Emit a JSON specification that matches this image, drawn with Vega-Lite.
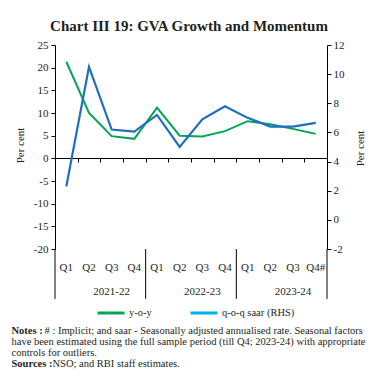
{
  "$schema": "https://vega.github.io/schema/vega-lite/v6.json",
  "width": 272,
  "height": 204,
  "autosize": {"type": "none"},
  "padding": {"left": 55, "top": 45, "right": 50, "bottom": 129},
  "background": "white",
  "config": {
    "view": {"stroke": null},
    "font": "Liberation Serif",
    "axis": {"labelFont": "Liberation Serif", "titleFont": "Liberation Serif", "labelColor": "#231f20", "titleColor": "#231f20", "domainColor": "#000000", "tickColor": "#000000", "grid": false, "titleFontWeight": "normal"},
    "legend": {"labelFont": "Liberation Serif"}
  },
  "title": {"text": "Chart III 19: GVA Growth and Momentum", "font": "Liberation Serif", "fontSize": 15, "fontWeight": "bold", "color": "#231f20", "anchor": "middle", "offset": 5, "dx": -2},
  "datasets": {
    "gva": [
      {"q": "2021-22 Q1", "yoy": 21.3, "qoq": 2.3},
      {"q": "2021-22 Q2", "yoy": 10.0, "qoq": 10.5},
      {"q": "2021-22 Q3", "yoy": 4.9, "qoq": 6.2},
      {"q": "2021-22 Q4", "yoy": 4.3, "qoq": 6.05},
      {"q": "2022-23 Q1", "yoy": 11.2, "qoq": 7.2},
      {"q": "2022-23 Q2", "yoy": 5.0, "qoq": 5.0},
      {"q": "2022-23 Q3", "yoy": 4.8, "qoq": 6.9},
      {"q": "2022-23 Q4", "yoy": 6.0, "qoq": 7.8},
      {"q": "2023-24 Q1", "yoy": 8.2, "qoq": 7.0},
      {"q": "2023-24 Q2", "yoy": 7.5, "qoq": 6.4},
      {"q": "2023-24 Q3", "yoy": 6.5, "qoq": 6.4},
      {"q": "2023-24 Q4#", "yoy": 5.4, "qoq": 6.65}
    ],
    "starts": [{"q": "2021-22 Q1"}, {"q": "2022-23 Q1"}, {"q": "2023-24 Q1"}],
    "ends": [{"q": "2023-24 Q4#"}]
  },
  "layer": [
    {
      "data": {"name": "gva"},
      "mark": {"type": "line", "strokeWidth": 2},
      "encoding": {
        "x": {"field": "q", "type": "ordinal", "bandPosition": 0.5,
          "scale": {"type": "band", "paddingInner": 0, "paddingOuter": 0, "domain": ["2021-22 Q1","2021-22 Q2","2021-22 Q3","2021-22 Q4","2022-23 Q1","2022-23 Q2","2022-23 Q3","2022-23 Q4","2023-24 Q1","2023-24 Q2","2023-24 Q3","2023-24 Q4#"]},
          "axis": {"orient": "bottom", "offset": 0, "domain": false, "ticks": false, "labelAngle": 0, "labelFontSize": 11, "labelPadding": 12, "labelExpr": "split(datum.value, ' ')[1]",
            "title": "Notes :", "titleFontWeight": "bold", "titleFontSize": 10.5, "titleAngle": 0, "titleAlign": "left", "titleBaseline": "alphabetic", "titleX": -44, "titleY": 84}},
        "y": {"field": "yoy", "type": "quantitative",
          "scale": {"domain": [-20, 25], "nice": false, "zero": false},
          "axis": {"orient": "left", "values": [-20,-15,-10,-5,0,5,10,15,20,25], "labelExpr": "replace(datum.label, '\u2212', '-')", "tickSize": 4, "labelPadding": 3, "labelFontSize": 11, "title": "Per cent", "titleFontSize": 11, "titleAngle": -90, "titleX": -35, "titleY": 100, "titleAlign": "center", "titleBaseline": "middle"}},
        "color": {"datum": "y-o-y", "type": "nominal",
          "scale": {"domain": ["y-o-y", "q-o-q saar (RHS)"], "range": ["#00a651", "#00b0f0"]},
          "legend": {"title": null, "orient": "none", "direction": "horizontal", "legendX": 41, "legendY": 253, "symbolType": "stroke", "symbolSize": 729, "symbolStrokeWidth": 3, "labelFontSize": 10.5, "labelColor": "#231f20", "labelOffset": 3, "columnPadding": 32}}
      }
    },
    {
      "data": {"name": "gva"},
      "mark": {"type": "line", "strokeWidth": 1},
      "encoding": {
        "x": {"field": "q", "type": "ordinal", "bandPosition": 0.5,
          "scale": {"type": "band", "paddingInner": 0, "paddingOuter": 0, "domain": ["2021-22 Q1","2021-22 Q2","2021-22 Q3","2021-22 Q4","2022-23 Q1","2022-23 Q2","2022-23 Q3","2022-23 Q4","2023-24 Q1","2023-24 Q2","2023-24 Q3","2023-24 Q4#"]},
          "axis": {"orient": "bottom", "offset": -91, "domain": true, "domainWidth": 1, "ticks": true, "tickBand": "extent", "tickSize": 4, "labels": false,
            "title": "# : Implicit; and saar - Seasonally adjusted annualised rate. Seasonal factors", "titleFontSize": 10.5, "titleAngle": 0, "titleAlign": "left", "titleBaseline": "alphabetic", "titleX": -11, "titleY": 175}},
        "y": {"field": "qoq", "type": "quantitative",
          "scale": {"domain": [-2, 12], "nice": false, "zero": false},
          "axis": {"orient": "right", "values": [-2,0,2,4,6,8,10,12], "labelExpr": "replace(datum.label, '\u2212', '-')", "tickSize": 4, "labelPadding": 2, "labelFontSize": 11, "title": "Per cent", "titleFontSize": 11, "titleAngle": -90, "titleX": 33, "titleY": 103, "titleAlign": "center", "titleBaseline": "middle"}},
        "color": {"datum": "q-o-q saar (RHS)", "type": "nominal"}
      }
    },
    {
      "data": {"name": "gva"},
      "mark": {"type": "line", "strokeWidth": 2.2, "color": "#1f6fc0"},
      "encoding": {
        "x": {"field": "q", "type": "ordinal", "bandPosition": 0.5,
          "scale": {"type": "band", "paddingInner": 0, "paddingOuter": 0, "domain": ["2021-22 Q1","2021-22 Q2","2021-22 Q3","2021-22 Q4","2022-23 Q1","2022-23 Q2","2022-23 Q3","2022-23 Q4","2023-24 Q1","2023-24 Q2","2023-24 Q3","2023-24 Q4#"]},
          "axis": {"orient": "bottom", "offset": 0, "bandPosition": 0, "domain": false, "ticks": false, "labelAngle": 0, "labelFontSize": 11, "labelPadding": 36, "labelExpr": "indexof(datum.value, 'Q3') >= 0 ? split(datum.value, ' ')[0] : ''",
            "title": ["have been estimated using the full sample period (till Q4; 2023-24) with appropriate", "controls for outliers."], "titleFontSize": 10.5, "titleLineHeight": 11, "titleAngle": 0, "titleAlign": "left", "titleBaseline": "alphabetic", "titleX": -44, "titleY": 95}},
        "y": {"field": "qoq", "type": "quantitative",
          "scale": {"domain": [-2, 12], "nice": false, "zero": false},
          "axis": null}
      }
    },
    {
      "data": {"name": "starts"},
      "mark": {"type": "rule", "color": "#000000", "strokeWidth": 1},
      "encoding": {
        "x": {"field": "q", "type": "ordinal", "bandPosition": 0,
          "scale": {"type": "band", "paddingInner": 0, "paddingOuter": 0, "domain": ["2021-22 Q1","2021-22 Q2","2021-22 Q3","2021-22 Q4","2022-23 Q1","2022-23 Q2","2022-23 Q3","2022-23 Q4","2023-24 Q1","2023-24 Q2","2023-24 Q3","2023-24 Q4#"]},
          "axis": {"orient": "bottom", "offset": 0, "domain": false, "ticks": false, "labels": false,
            "title": "NSO; and RBI staff estimates.", "titleFontSize": 10.5, "titleAngle": 0, "titleAlign": "left", "titleBaseline": "alphabetic", "titleX": -3, "titleY": 117}},
        "y": {"datum": -20, "type": "quantitative", "scale": {"domain": [-20, 25], "nice": false, "zero": false}, "axis": null},
        "y2": {"datum": -31}
      }
    },
    {
      "data": {"name": "ends"},
      "mark": {"type": "rule", "color": "#000000", "strokeWidth": 1},
      "encoding": {
        "x": {"field": "q", "type": "ordinal", "bandPosition": 1,
          "scale": {"type": "band", "paddingInner": 0, "paddingOuter": 0, "domain": ["2021-22 Q1","2021-22 Q2","2021-22 Q3","2021-22 Q4","2022-23 Q1","2022-23 Q2","2022-23 Q3","2022-23 Q4","2023-24 Q1","2023-24 Q2","2023-24 Q3","2023-24 Q4#"]},
          "axis": {"orient": "bottom", "offset": 0, "domain": false, "ticks": false, "labels": false,
            "title": "Sources :", "titleFontWeight": "bold", "titleFontSize": 10.5, "titleAngle": 0, "titleAlign": "left", "titleBaseline": "alphabetic", "titleX": -44, "titleY": 117}},
        "y": {"datum": -20, "type": "quantitative", "scale": {"domain": [-20, 25], "nice": false, "zero": false}, "axis": null},
        "y2": {"datum": -31}
      }
    }
  ],
  "resolve": {"scale": {"x": "independent", "y": "independent"}, "axis": {"x": "independent", "y": "independent"}}
}
